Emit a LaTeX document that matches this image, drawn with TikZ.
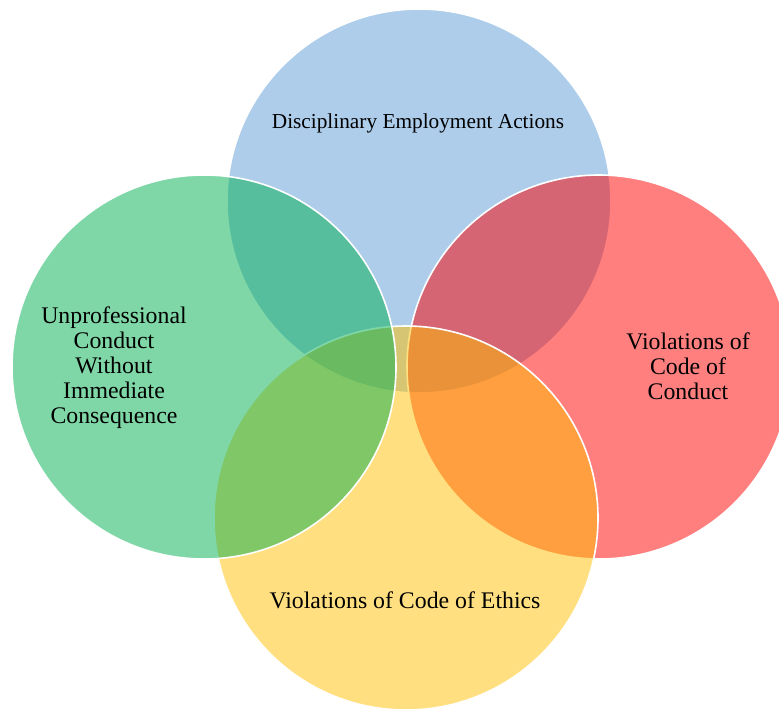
\documentclass[tikz,border=0pt]{standalone}
\usepackage{fontspec}
\setmainfont{Liberation Serif}
\definecolor{vblue}{HTML}{5B9BD5}
\definecolor{vred}{HTML}{FF0000}
\definecolor{vyellow}{HTML}{FFC000}
\definecolor{vgreen}{HTML}{00B050}
\begin{document}
\begin{tikzpicture}[x=1pt,y=-1pt,
  venn/.style={circle, minimum size=384pt, inner sep=0pt, draw=white, line width=1.6pt,
    fill=#1, fill opacity=0.5, draw opacity=1},
  lbl/.style={align=center, font=\fontsize{23.8}{25}\selectfont, text=black, inner sep=0pt}]
\useasboundingbox (0,0) rectangle (779,710);
\begin{scope}
\clip (0,0) rectangle (779,710);
% circles in stacking order: top, right, bottom, left
\node[venn=vblue]   (top)    at (419,201) {};
\node[venn=vred]    (right)  at (599,367) {};
\node[venn=vyellow] (bottom) at (406,518) {};
\node[venn=vgreen]  (left)   at (204,367) {};
\end{scope}
\node[lbl, font=\fontsize{21.3}{24}\selectfont] (ttop) at (418,123) {Disciplinary Employment Actions};
\node[lbl] (tleft) at (114,368) {Unprofessional\\Conduct\\Without\\Immediate\\Consequence};
\node[lbl] (tright) at (688,366) {Violations of\\Code of\\Conduct};
\node[lbl] (tbottom) at (405,600) {Violations of Code of Ethics};
\end{tikzpicture}
\end{document}
